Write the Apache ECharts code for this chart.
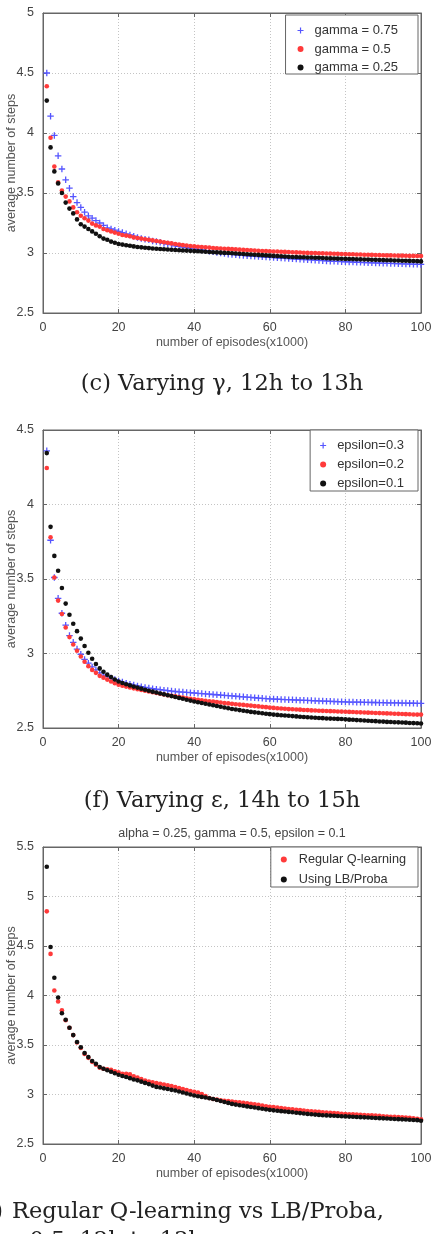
<!DOCTYPE html>
<html>
<head>
<meta charset="utf-8">
<script src="https://cdn.jsdelivr.net/npm/echarts@6/dist/echarts.min.js"></script>
<style>
html,body{margin:0;padding:0;background:#fff;}
#c{width:433px;height:1234px;}
</style>
</head>
<body>
<div id="c"></div>
<script>
// ---------- data ----------
const xTicks = [0, 20, 40, 60, 80, 100];
const episodes = Array.from({length: 100}, (_, i) => i + 1); // x (x1000 episodes)

// (c) varying gamma
const gamma075 = [
 4.50,4.14,3.98,3.81,3.70,3.61,3.54,3.47,3.42,3.38,
 3.34,3.31,3.29,3.27,3.25,3.23,3.21,3.20,3.19,3.18,
 3.17,3.16,3.15,3.14,3.13,3.12,3.115,3.11,3.10,3.095,
 3.09,3.08,3.075,3.07,3.06,3.055,3.05,3.045,3.04,3.035,
 3.03,3.025,3.02,3.015,3.01,3.005,3.00,2.995,2.99,2.988,
 2.985,2.982,2.98,2.977,2.975,2.972,2.97,2.968,2.966,2.964,
 2.962,2.96,2.958,2.956,2.954,2.952,2.95,2.948,2.946,2.944,
 2.942,2.94,2.938,2.936,2.934,2.932,2.931,2.93,2.928,2.927,
 2.926,2.924,2.923,2.922,2.92,2.919,2.918,2.917,2.916,2.915,
 2.914,2.913,2.912,2.911,2.91,2.909,2.908,2.907,2.906,2.905];
const gamma05 = [
 4.39,3.96,3.72,3.59,3.52,3.47,3.43,3.38,3.34,3.31,
 3.29,3.27,3.245,3.23,3.22,3.20,3.19,3.18,3.17,3.16,
 3.15,3.145,3.14,3.13,3.125,3.12,3.115,3.11,3.105,3.10,
 3.095,3.09,3.085,3.08,3.075,3.07,3.066,3.062,3.058,3.055,
 3.052,3.05,3.047,3.045,3.042,3.04,3.038,3.036,3.034,3.032,
 3.03,3.028,3.026,3.024,3.022,3.02,3.018,3.017,3.016,3.015,
 3.013,3.012,3.01,3.009,3.008,3.006,3.005,3.004,3.002,3.001,
 3.00,2.999,2.998,2.997,2.996,2.995,2.994,2.993,2.992,2.991,
 2.99,2.989,2.988,2.987,2.986,2.985,2.984,2.983,2.982,2.981,
 2.98,2.98,2.979,2.978,2.978,2.977,2.976,2.976,2.975,2.975];
const gamma025 = [
 4.27,3.88,3.68,3.58,3.50,3.42,3.37,3.33,3.28,3.24,
 3.22,3.20,3.18,3.16,3.14,3.12,3.11,3.095,3.085,3.075,
 3.07,3.065,3.06,3.055,3.05,3.047,3.044,3.041,3.038,3.035,
 3.033,3.031,3.029,3.027,3.025,3.023,3.021,3.02,3.018,3.016,
 3.014,3.012,3.01,3.008,3.006,3.005,3.003,3.001,3.00,2.998,
 2.996,2.994,2.992,2.99,2.988,2.986,2.984,2.982,2.98,2.978,
 2.976,2.974,2.972,2.97,2.968,2.967,2.966,2.965,2.964,2.963,
 2.962,2.961,2.96,2.958,2.956,2.955,2.954,2.953,2.952,2.951,
 2.95,2.949,2.948,2.947,2.946,2.945,2.944,2.943,2.942,2.941,
 2.94,2.939,2.938,2.937,2.936,2.935,2.934,2.933,2.932,2.93];

// (f) varying epsilon
const eps03 = [
 4.36,3.76,3.51,3.37,3.27,3.19,3.12,3.075,3.03,2.995,
 2.96,2.935,2.91,2.89,2.87,2.855,2.845,2.835,2.825,2.815,
 2.808,2.80,2.794,2.788,2.782,2.777,2.772,2.768,2.764,2.76,
 2.757,2.754,2.751,2.748,2.745,2.743,2.741,2.739,2.737,2.735,
 2.733,2.731,2.729,2.727,2.725,2.723,2.721,2.719,2.717,2.715,
 2.713,2.711,2.709,2.707,2.705,2.703,2.701,2.699,2.697,2.695,
 2.694,2.693,2.692,2.691,2.69,2.689,2.688,2.687,2.686,2.685,
 2.684,2.683,2.682,2.681,2.68,2.679,2.678,2.677,2.676,2.675,
 2.674,2.674,2.673,2.673,2.672,2.672,2.671,2.671,2.67,2.67,
 2.669,2.669,2.668,2.668,2.667,2.667,2.666,2.666,2.665,2.665];
const eps02 = [
 4.245,3.78,3.51,3.355,3.265,3.175,3.11,3.06,3.018,2.98,
 2.945,2.915,2.89,2.87,2.85,2.838,2.825,2.812,2.80,2.79,
 2.784,2.778,2.772,2.766,2.76,2.755,2.75,2.745,2.74,2.735,
 2.73,2.725,2.72,2.716,2.712,2.708,2.704,2.70,2.696,2.692,
 2.689,2.686,2.683,2.68,2.677,2.674,2.671,2.668,2.665,2.662,
 2.659,2.657,2.655,2.652,2.65,2.647,2.645,2.642,2.64,2.637,
 2.635,2.633,2.631,2.629,2.627,2.626,2.624,2.623,2.621,2.62,
 2.618,2.617,2.616,2.615,2.614,2.613,2.612,2.611,2.61,2.609,
 2.608,2.607,2.606,2.605,2.604,2.603,2.602,2.601,2.60,2.599,
 2.598,2.597,2.596,2.595,2.594,2.593,2.592,2.591,2.59,2.59];
const eps01 = [
 4.345,3.85,3.655,3.555,3.44,3.335,3.26,3.20,3.15,3.10,
 3.05,3.005,2.965,2.93,2.90,2.878,2.858,2.842,2.826,2.812,
 2.802,2.794,2.786,2.778,2.771,2.764,2.757,2.75,2.744,2.738,
 2.732,2.726,2.72,2.714,2.708,2.702,2.696,2.69,2.684,2.678,
 2.673,2.668,2.663,2.658,2.653,2.648,2.643,2.638,2.633,2.628,
 2.624,2.62,2.616,2.612,2.608,2.605,2.602,2.599,2.596,2.593,
 2.59,2.588,2.586,2.584,2.582,2.58,2.578,2.576,2.574,2.572,
 2.57,2.569,2.567,2.566,2.564,2.563,2.562,2.561,2.56,2.558,
 2.556,2.555,2.553,2.552,2.55,2.549,2.547,2.546,2.544,2.543,
 2.541,2.54,2.539,2.538,2.537,2.536,2.534,2.533,2.532,2.53];

// (i) regular Q-learning vs LB/Proba
const regularQ = [
 4.85,4.42,4.05,3.94,3.85,3.75,3.675,3.60,3.525,3.47,
 3.41,3.37,3.33,3.30,3.27,3.26,3.255,3.25,3.235,3.225,
 3.21,3.21,3.203,3.183,3.17,3.155,3.14,3.13,3.122,3.115,
 3.108,3.10,3.092,3.085,3.075,3.065,3.055,3.045,3.035,3.027,
 3.02,3.005,2.985,2.965,2.955,2.948,2.942,2.937,2.933,2.93,
 2.925,2.92,2.915,2.91,2.905,2.90,2.895,2.888,2.882,2.877,
 2.872,2.867,2.862,2.858,2.854,2.85,2.846,2.842,2.838,2.834,
 2.83,2.827,2.824,2.821,2.818,2.815,2.812,2.809,2.806,2.803,
 2.801,2.799,2.797,2.795,2.793,2.791,2.789,2.787,2.785,2.78,
 2.778,2.776,2.774,2.772,2.77,2.767,2.764,2.76,2.755,2.75];
const lbProba = [
 5.30,4.49,4.18,3.98,3.82,3.755,3.675,3.60,3.53,3.478,
 3.418,3.378,3.338,3.31,3.278,3.26,3.245,3.23,3.215,3.20,
 3.187,3.177,3.165,3.152,3.143,3.13,3.117,3.105,3.09,3.077,
 3.07,3.062,3.055,3.047,3.04,3.03,3.02,3.01,3.0,2.99,
 2.983,2.976,2.969,2.962,2.955,2.945,2.935,2.925,2.915,2.905,
 2.898,2.892,2.886,2.88,2.874,2.868,2.862,2.856,2.85,2.845,
 2.84,2.836,2.832,2.828,2.824,2.82,2.816,2.812,2.808,2.804,
 2.80,2.797,2.794,2.791,2.789,2.787,2.785,2.783,2.781,2.779,
 2.777,2.775,2.773,2.771,2.769,2.767,2.765,2.763,2.761,2.759,
 2.757,2.755,2.753,2.751,2.749,2.747,2.745,2.743,2.741,2.735];

const yRanges = [[2.5, 5], [2.5, 4.5], [2.5, 5.5]];
const xLabel = 'number of episodes(x1000)';
const yLabel = 'average number of steps';

// ---------- chart ----------
const chart = echarts.init(document.getElementById('c'), null, {renderer: 'canvas'});
const FONT = 'Liberation Sans, Arial, sans-serif';
const SERIF = 'DejaVu Serif, serif';
const FRAME = '#666';
const PLUS = 'path://M4,0H6V4H10V6H6V10H4V6H0V4H4Z';
const BLUE = '#5555ff', RED = '#ff3a3a', BLACK = '#111';

const grids = [
  {left: 43, top: 13, width: 378, height: 300},
  {left: 43, top: 430, width: 378, height: 298},
  {left: 43, top: 847, width: 378, height: 297}
].map(g => Object.assign({show: true, borderColor: FRAME, borderWidth: 1, backgroundColor: '#fff',
  containLabel: false, outerBoundsMode: 'none'}, g));

const xAxis = [], yAxis = [];
grids.forEach((g, i) => {
  xAxis.push({
    type: 'value', gridIndex: i, min: 0, max: 100, interval: 20,
    name: xLabel, nameLocation: 'middle', nameGap: 23, nameMoveOverlap: false,
    nameTextStyle: {fontFamily: FONT, fontSize: 12.5, color: '#555'},
    axisLine: {show: true, onZero: false, lineStyle: {color: FRAME}},
    axisTick: {show: true, inside: true, length: 4, lineStyle: {color: FRAME}},
    axisLabel: {fontFamily: FONT, fontSize: 12.5, color: '#444', margin: 8},
    splitLine: {show: true, lineStyle: {color: '#c4c4c4', type: [1, 2], width: 1}}
  });
  xAxis.push({
    type: 'value', gridIndex: i, min: 0, max: 100, interval: 20, position: 'top',
    axisLine: {show: true, onZero: false, lineStyle: {color: FRAME}},
    axisTick: {show: true, inside: true, length: 4, lineStyle: {color: FRAME}},
    axisLabel: {show: false}, splitLine: {show: false}
  });
  yAxis.push({
    type: 'value', gridIndex: i, min: yRanges[i][0], max: yRanges[i][1], interval: 0.5,
    name: yLabel, nameLocation: 'middle', nameGap: 25, nameRotate: 90, nameMoveOverlap: false,
    nameTextStyle: {fontFamily: FONT, fontSize: 12.5, color: '#555'},
    axisLine: {show: true, onZero: false, lineStyle: {color: FRAME}},
    axisTick: {show: true, inside: true, length: 4, lineStyle: {color: FRAME}},
    axisLabel: {fontFamily: FONT, fontSize: 12.5, color: '#444', margin: 9},
    splitLine: {show: true, lineStyle: {color: '#c4c4c4', type: [1, 2], width: 1}}
  });
  yAxis.push({
    type: 'value', gridIndex: i, min: yRanges[i][0], max: yRanges[i][1], interval: 0.5, position: 'right',
    axisLine: {show: true, onZero: false, lineStyle: {color: FRAME}},
    axisTick: {show: true, inside: true, length: 4, lineStyle: {color: FRAME}},
    axisLabel: {show: false}, splitLine: {show: false}
  });
});

function sc(name, arr, panel, color, plus) {
  return {
    type: 'scatter', name: name,
    xAxisIndex: panel * 2, yAxisIndex: panel * 2,
    data: episodes.map((x, k) => [x, arr[k]]),
    symbol: plus ? PLUS : 'circle',
    symbolSize: plus ? 6.5 : 4.6,
    itemStyle: {color: color, opacity: 1},
    emphasis: {disabled: true},
    silent: true
  };
}

const series = [
  sc('gamma = 0.75', gamma075, 0, BLUE, true),
  sc('gamma = 0.5', gamma05, 0, RED, false),
  sc('gamma = 0.25', gamma025, 0, BLACK, false),
  sc('epsilon=0.3', eps03, 1, BLUE, true),
  sc('epsilon=0.2', eps02, 1, RED, false),
  sc('epsilon=0.1', eps01, 1, BLACK, false),
  sc('Regular Q-learning', regularQ, 2, RED, false),
  sc('Using LB/Proba', lbProba, 2, BLACK, false)
];

function lg(names, top, gap, pad, iw, fs) {
  return {
    data: names, orient: 'vertical', right: 15, top: top,
    itemWidth: iw, itemHeight: 6, itemGap: gap, padding: pad,
    borderColor: FRAME, borderWidth: 1, backgroundColor: '#fff',
    selectedMode: false,
    textStyle: {fontFamily: FONT, fontSize: fs, color: '#333', lineHeight: 13}
  };
}

const option = {
  animation: false,
  backgroundColor: '#fff',
  grid: grids,
  xAxis: xAxis,
  yAxis: yAxis,
  legend: [
    lg(['gamma = 0.75', 'gamma = 0.5', 'gamma = 0.25'], 15, 5.5, [9, 20, 0, 12], 18, 13),
    lg(['epsilon=0.3', 'epsilon=0.2', 'epsilon=0.1'], 430, 6, [9, 14, 1, 10], 18, 13),
    lg(['Regular Q-learning', 'Using LB/Proba'], 847, 7, [6, 12, 1, 10], 20, 12.7)
  ],
  series: series,
  graphic: [
    {type: 'text', x: 222, y: 373, style: {text: '(c) Varying γ, 12h to 13h', font: '22.5px ' + SERIF, fill: '#222', align: 'center'}},
    {type: 'text', x: 222, y: 790, style: {text: '(f) Varying ε, 14h to 15h', font: '22.5px ' + SERIF, fill: '#222', align: 'center'}},
    {type: 'text', x: 232, y: 827, style: {text: 'alpha = 0.25, gamma = 0.5, epsilon = 0.1', font: '12.5px ' + FONT, fill: '#444', align: 'center'}},
    {type: 'text', x: 3, y: 1201, style: {text: ')', font: '22.5px ' + SERIF, fill: '#222', align: 'right'}},
    {type: 'text', x: 12, y: 1201, style: {text: 'Regular Q-learning vs LB/Proba,', font: '22.5px ' + SERIF, fill: '#222'}},
    {type: 'text', x: -17, y: 1230, style: {text: 'γ = 0.5, 12h to 13h', font: '22.5px ' + SERIF, fill: '#222'}}
  ]
};
chart.setOption(option);
</script>
</body>
</html>
